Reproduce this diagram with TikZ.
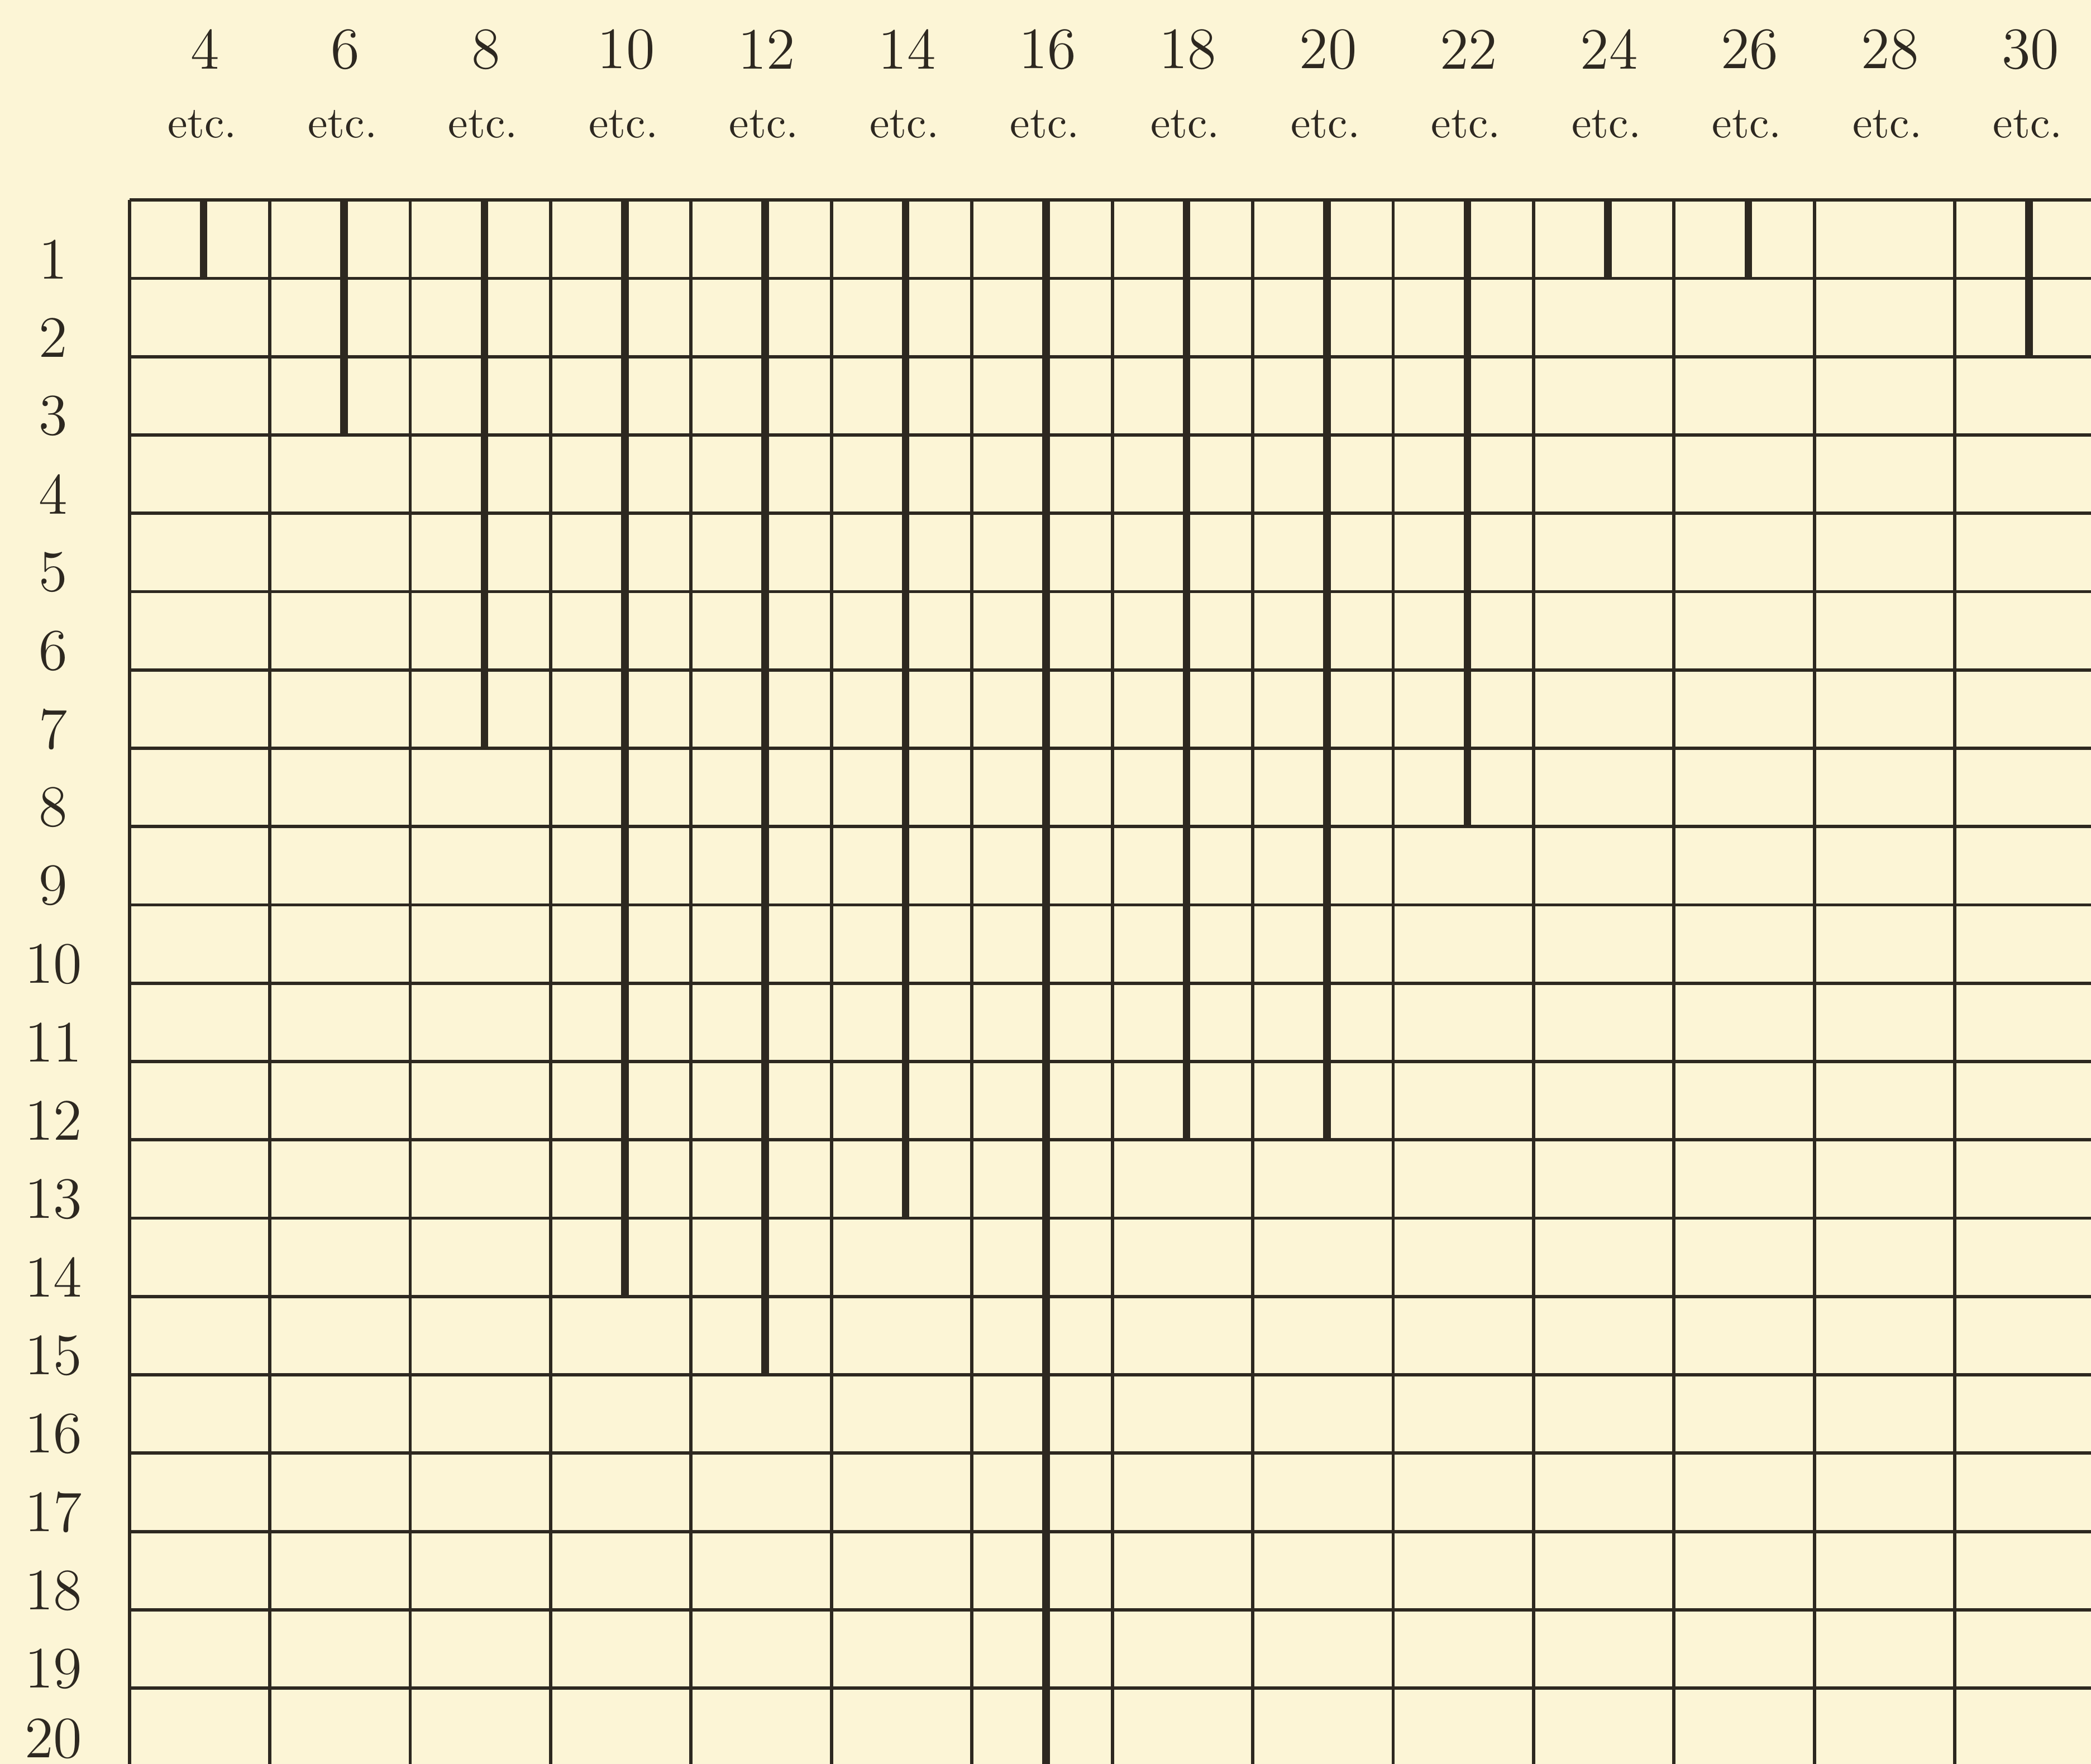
\documentclass[tikz,border=0pt]{standalone}
\usepackage{xcolor}
\definecolor{paper}{RGB}{252,245,214}
\definecolor{ink}{RGB}{45,40,32}
\begin{document}
\begin{tikzpicture}[x=0.01cm,y=-0.01cm,
  gridline/.style={draw=ink,line width=0.7pt},
  bar/.style={draw=ink,line width=1.6pt},
  colnum/.style={font=\fontsize{12.5}{13}\selectfont,text=ink,inner sep=0pt},
  etclabel/.style={font=\fontsize{9.5}{10}\selectfont,text=ink,inner sep=0pt},
  rownum/.style={font=\fontsize{12.5}{13}\selectfont,text=ink,inner sep=0pt}]
\fill[paper] (0,0) rectangle (1568,1323);
\useasboundingbox (0,0) rectangle (1568,1323);
% grid
\foreach \i in {0,...,13}
  \draw[gridline] ({97+\i*105.3},150) -- ({97+\i*105.3},1330);
\foreach \j in {0,...,19}
  \draw[gridline] (97,{150+\j*58.74}) -- (1575,{150+\j*58.74});
% bars
\foreach \i/\m in {0/1,1/3,2/7,3/14,4/15,5/13,6/20,7/12,8/12,9/8,10/1,11/1,13/2}
  \draw[bar] ({97+(\i+0.5)*105.3+3},150) -- ({97+(\i+0.5)*105.3+3},{150+\m*58.74});
% column labels
\foreach \i in {0,...,13} {
  \pgfmathtruncatemacro\n{4+2*\i}
  \node[colnum] (c\i) at ({97+(\i+0.5)*105.3+4},37) {\n};
  \node[etclabel] (e\i) at ({97+(\i+0.5)*105.3+2},93) {etc.};
}
% row labels
\foreach \k in {1,...,19}
  \node[rownum] (r\k) at (40,{150+(\k-0.5)*58.74+15}) {\k};
\node[rownum] (r20) at (40,1304) {20};
\end{tikzpicture}
\end{document}
